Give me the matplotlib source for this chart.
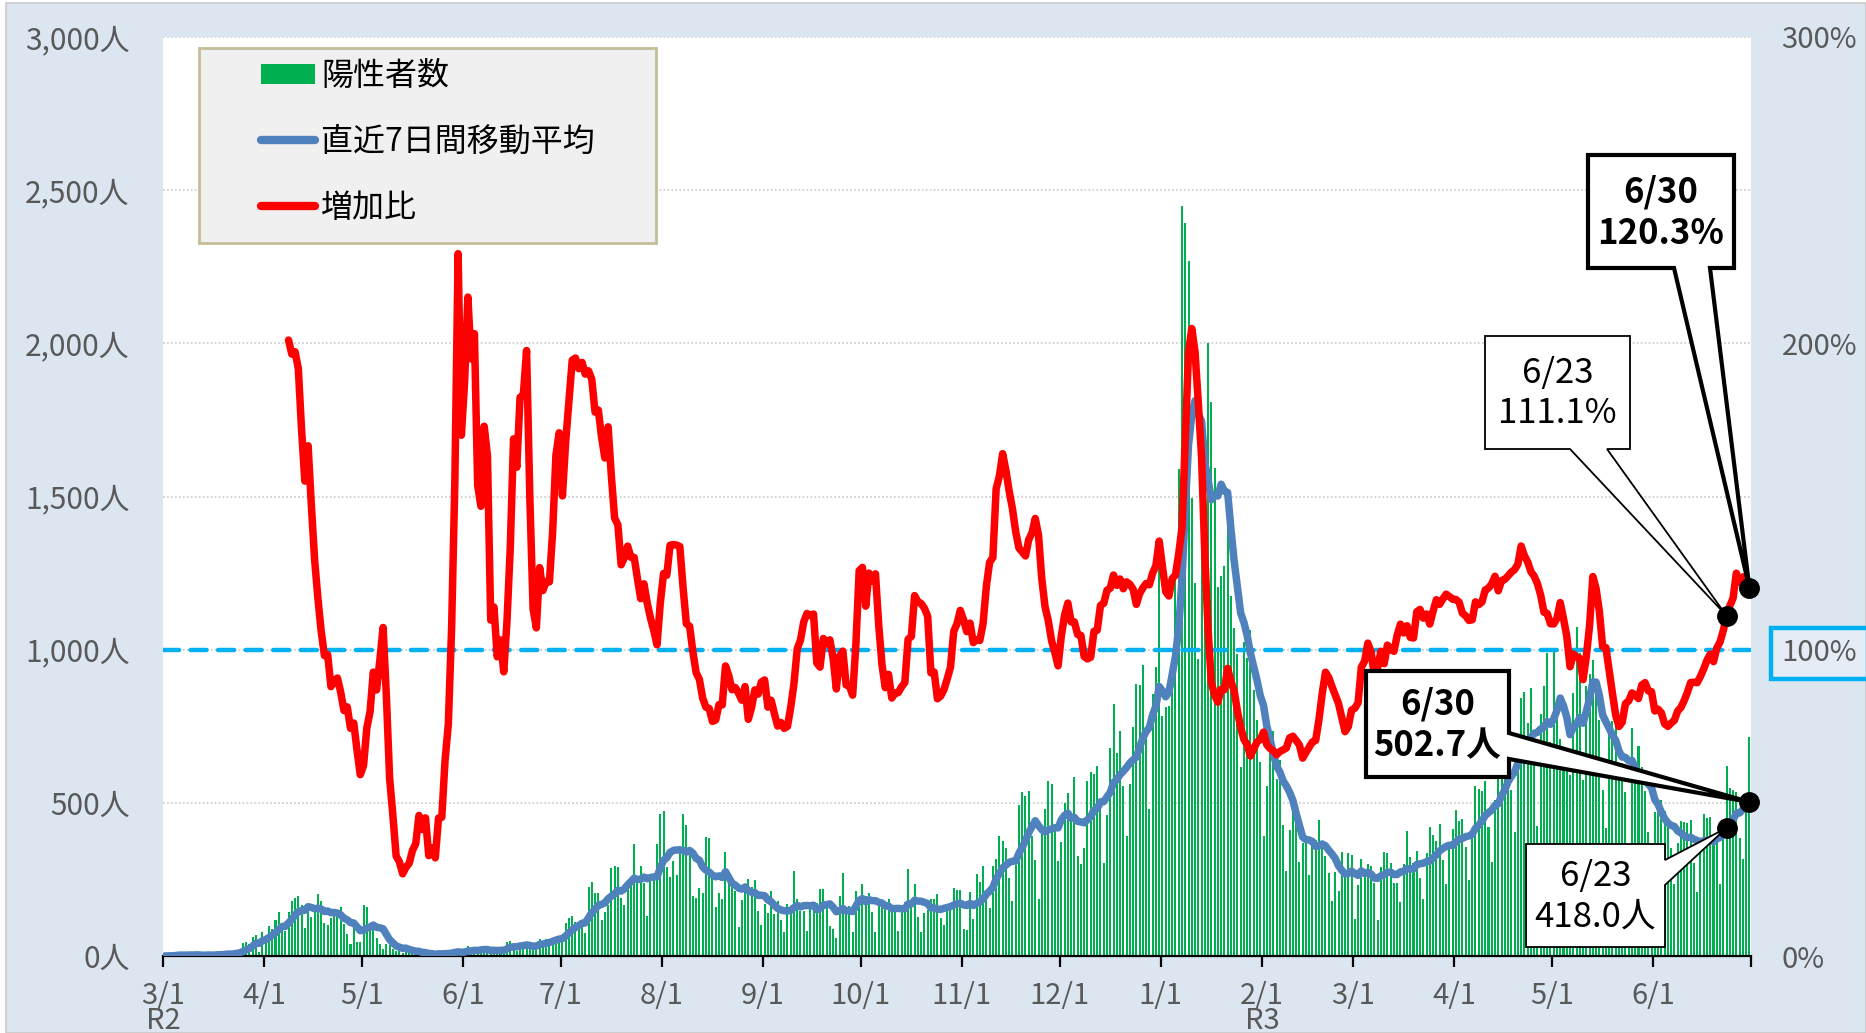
import numpy as np
import pandas as pd
import matplotlib
matplotlib.use("Agg")
import matplotlib.pyplot as plt
from matplotlib.patches import Rectangle, Polygon, Patch
from matplotlib.lines import Line2D

plt.rcParams['font.family'] = ['Noto Sans CJK JP', 'DejaVu Sans']

# ---------------- data: daily positives (Tokyo) ----------------
start_date = "2020-03-01"
end_date = "2021-06-30"
cases_2020_03 = [0, 1, 1, 2, 8, 6, 1, 2, 3, 0, 7, 2, 2, 6, 2, 0, 7, 9, 7, 11,
                 7, 3, 16, 17, 41, 47, 40, 63, 68, 13, 78]
cases_2020_04 = [66, 97, 89, 118, 143, 83, 80, 144, 178, 189, 197, 166, 91, 161, 127,
                 149, 201, 181, 107, 102, 123, 132, 134, 161, 103, 72, 39, 112, 47, 46]
cases_2020_05 = [165, 160, 91, 87, 58, 38, 23, 39, 36, 22, 15, 28, 10, 30, 9, 14, 5,
                 10, 5, 5, 11, 3, 2, 14, 8, 10, 11, 15, 22, 14, 5]
cases_2020_06 = [13, 34, 12, 28, 20, 26, 14, 13, 12, 18, 22, 25, 24, 47, 48, 27, 16,
                 41, 35, 39, 35, 29, 31, 55, 48, 54, 57, 60, 58, 54]
cases_2020_07 = [67, 107, 124, 131, 111, 102, 106, 75, 224, 243, 206, 206, 119, 143,
                 165, 286, 293, 290, 188, 168, 237, 238, 366, 260, 295, 239, 131, 266,
                 250, 367, 463]
cases_2020_08 = [472, 292, 258, 309, 263, 360, 462, 429, 331, 197, 188, 222, 206, 389,
                 385, 260, 161, 207, 186, 339, 258, 256, 212, 95, 182, 236, 250, 226,
                 247, 148, 100]
cases_2020_09 = [170, 141, 211, 136, 181, 116, 77, 170, 149, 276, 187, 146, 146, 80,
                 163, 163, 172, 220, 218, 157, 98, 88, 59, 195, 270, 161, 163, 78, 212, 194]
cases_2020_10 = [235, 196, 207, 143, 78, 175, 176, 175, 185, 150, 146, 81, 166, 177,
                 284, 184, 235, 128, 78, 139, 150, 185, 186, 203, 124, 102, 158, 171,
                 221, 215, 215]
cases_2020_11 = [87, 86, 209, 122, 269, 242, 294, 189, 157, 293, 317, 393, 374, 352,
                 255, 180, 298, 493, 534, 522, 539, 391, 314, 186, 401, 481, 570, 561,
                 418, 311]
cases_2020_12 = [372, 500, 533, 449, 584, 327, 299, 352, 572, 602, 595, 621, 480, 305,
                 460, 678, 822, 664, 736, 556, 392, 563, 748, 888, 884, 949, 708, 481,
                 856, 944, 1337]
cases_2021_01 = [783, 814, 816, 884, 1278, 1591, 2447, 2392, 2268, 1494, 1219, 970,
                 1433, 1502, 2001, 1809, 1592, 1204, 1240, 1274, 1471, 1175, 1070, 986,
                 618, 1026, 973, 1064, 868, 769, 633]
cases_2021_02 = [393, 556, 676, 734, 577, 639, 429, 276, 412, 491, 434, 307, 369, 371,
                 266, 378, 378, 445, 353, 327, 272, 178, 275, 213, 340, 270, 337, 329]
cases_2021_03 = [121, 232, 316, 279, 301, 293, 237, 116, 290, 340, 335, 304, 239, 239,
                 175, 300, 409, 323, 303, 342, 256, 187, 337, 420, 394, 376, 430, 313,
                 234, 364, 414]
cases_2021_04 = [475, 440, 446, 355, 249, 399, 555, 545, 537, 570, 421, 306, 510, 591,
                 729, 667, 759, 543, 405, 711, 843, 861, 759, 876, 635, 425, 790, 880,
                 990, 698]
cases_2021_05 = [1000, 830, 708, 609, 621, 591, 860, 1075, 990, 573, 880, 920, 966,
                 854, 772, 542, 419, 732, 766, 843, 614, 629, 535, 340, 743, 597, 684,
                 618, 539, 406, 260]
cases_2021_06 = [471, 487, 508, 472, 436, 351, 235, 369, 440, 439, 435, 445, 304, 209,
                 337, 465, 452, 453, 388, 376, 236, 402, 619, 550, 542, 534, 386, 317,
                 476, 714]

ratio_start_date = "2020-04-08"

legend_labels = ["陽性者数", "直近7日間移動平均", "増加比"]
left_ticks = [0, 500, 1000, 1500, 2000, 2500, 3000]
left_ticklabels = ["0人", "500人", "1,000人", "1,500人", "2,000人", "2,500人", "3,000人"]
right_ticks = [0, 100, 200, 300]
right_ticklabels = ["0%", "100%", "200%", "300%"]
era_labels = {"2020-03-01": "R2", "2021-02-01": "R3"}

callout_texts = [("6/30", "120.3%"), ("6/23", "111.1%"), ("6/30", "502.7人"), ("6/23", "418.0人")]

# ---------------- derived series ----------------
cases = np.array(cases_2020_03 + cases_2020_04 + cases_2020_05 + cases_2020_06 +
                 cases_2020_07 + cases_2020_08 + cases_2020_09 + cases_2020_10 +
                 cases_2020_11 + cases_2020_12 + cases_2021_01 + cases_2021_02 +
                 cases_2021_03 + cases_2021_04 + cases_2021_05 + cases_2021_06, dtype=float)
dates = pd.date_range(start_date, end_date)
assert len(dates) == len(cases)
s = pd.Series(cases, index=dates)
avg7 = s.rolling(7, min_periods=1).mean()
ratio = avg7 / avg7.shift(7) * 100
x = np.arange(len(dates))
rs = dates.get_loc(pd.Timestamp(ratio_start_date))

# ---------------- figure ----------------
W, H = 1866, 1033
fig = plt.figure(figsize=(W / 100, H / 100), dpi=100)
fig.patch.set_facecolor("white")
fig.patches.append(Rectangle((6 / W, 0), 1 - 6 / W, 1 - 3 / H, transform=fig.transFigure,
                             facecolor="#dce6f1", edgecolor="#c9c9c9", lw=1.2, zorder=-10))
L, R, T, B = 163, 1751, 37, 956
ax = fig.add_axes([L / W, 1 - B / H, (R - L) / W, (B - T) / H])
ax.set_facecolor("white")

GREEN, BLUE, RED, CYAN = "#00b050", "#4f81bd", "#ff0000", "#00b0f0"
TICKC = "#595959"
TICKFS = 21

for yv in left_ticks[1:]:
    ax.axhline(yv, color="#d0d0d0", lw=1.3, ls=(0, (1, 1.2)), zorder=0.5)

ax.bar(x, cases, width=0.62, color=GREEN, linewidth=0, zorder=1)
ax.axhline(1000, color=CYAN, lw=3.2, ls=(0, (3.6, 2.6)), dash_capstyle="round", zorder=2)
ax.plot(x, avg7.values, color=BLUE, lw=5.4, solid_joinstyle="round",
        solid_capstyle="round", zorder=3)

ax.set_xlim(-0.5, len(x) - 0.5)
ax.set_ylim(0, 3000)
ax.set_yticks(left_ticks)
ax.set_yticklabels(left_ticklabels)

month_idx = [i for i, d in enumerate(dates) if d.day == 1]
xt = [i - 0.5 for i in month_idx] + [len(x) - 0.5]
xl = []
for i in month_idx:
    d = dates[i]
    lab = f"{d.month}/1"
    key = d.strftime("%Y-%m-%d")
    if key in era_labels:
        lab += "\n" + era_labels[key]
    xl.append(lab)
xl.append("")
ax.set_xticks(xt)
ax.set_xticklabels(xl, linespacing=0.78)

for sp in ["left", "right", "top"]:
    ax.spines[sp].set_visible(False)
ax.spines["bottom"].set_color("black")
ax.spines["bottom"].set_linewidth(1.6)
ax.tick_params(axis="x", direction="out", length=8, width=1.6, color="black",
               labelsize=TICKFS, labelcolor=TICKC, pad=10)
ax.tick_params(axis="y", length=0, labelsize=TICKFS + 0.5, labelcolor=TICKC, pad=24)

ax2 = ax.twinx()
ax2.set_position(ax.get_position())
ax2.plot(x[rs:], ratio.values[rs:], color=RED, lw=5.4, solid_joinstyle="round",
         solid_capstyle="round", zorder=3)
ax2.set_ylim(0, 300)
ax2.set_yticks(right_ticks)
ax2.set_yticklabels(right_ticklabels)
for sp in ax2.spines.values():
    sp.set_visible(False)
ax2.tick_params(axis="y", length=0, labelsize=TICKFS, labelcolor=TICKC, pad=22)
ax2.get_yticklabels()[1].set_bbox(dict(boxstyle="square,pad=0.36", facecolor="#e6ecf5",
                                       edgecolor=CYAN, linewidth=3.2))

# ---------------- legend ----------------
fig.patches.append(Rectangle((199 / W, 1 - 243 / H), (656 - 199) / W, (243 - 48) / H,
                             transform=fig.transFigure, facecolor="#f0f0f0",
                             edgecolor="#c4bd97", lw=2, zorder=5))
handles = [Patch(facecolor=GREEN, edgecolor="none"),
           Line2D([], [], color=BLUE, lw=6, solid_capstyle="round"),
           Line2D([], [], color=RED, lw=6, solid_capstyle="round")]
leg = fig.legend(handles, legend_labels, loc="upper left",
                 bbox_to_anchor=(261 / W, 1 - 60 / H), frameon=False, fontsize=23,
                 handlelength=1.7, handleheight=0.6, handletextpad=0.18,
                 labelspacing=1.06, borderpad=0, borderaxespad=0)
leg.set_zorder(6)
for t in leg.get_texts():
    t.set_color("black")

# ---------------- callouts ----------------
def px2fig(X, Y):
    return (X / W, 1 - Y / H)

def data2px(axis, xv, yv):
    dx, dy = axis.transData.transform((xv, yv))
    return dx, H - dy

i30 = len(x) - 1
i23 = len(x) - 8
pA = data2px(ax2, i30, ratio.values[i30])
pB = data2px(ax2, i23, ratio.values[i23])
pC = data2px(ax, i30, avg7.values[i30])
pD = data2px(ax, i23, avg7.values[i23])

def callout(box, wedge, apex, side, lines, bold):
    X0, Y0, X1, Y1 = box
    b1, b2 = wedge
    if side == "bottom":
        pts = [(X0, Y0), (X1, Y0), (X1, Y1), (b2, Y1), apex, (b1, Y1), (X0, Y1)]
    else:
        pts = [(X0, Y0), (X1, Y0), (X1, b1), apex, (X1, b2), (X1, Y1), (X0, Y1)]
    poly = Polygon([px2fig(*p) for p in pts], closed=True, transform=fig.transFigure,
                   facecolor="white", edgecolor="black", lw=3.0 if bold else 1.3,
                   joinstyle="miter", zorder=10, clip_on=False)
    ax2.add_artist(poly)
    cx, cy = px2fig((X0 + X1) / 2, (Y0 + Y1) / 2 + 1)
    ax2.text(cx, cy, "\n".join(lines), transform=fig.transFigure, ha="center",
             va="center", multialignment="center", fontsize=25, linespacing=1.22,
             fontweight="bold" if bold else "normal", color="black", zorder=11)

callout((1588, 155, 1734, 268), (1674, 1710), pA, "bottom", callout_texts[0], True)
callout((1485, 336, 1630, 449), (1570, 1607), pB, "bottom", callout_texts[1], False)
callout((1366, 671, 1509, 777), (733, 759), pC, "right", callout_texts[2], True)
callout((1526, 844, 1665, 947), (860, 885), pD, "right", callout_texts[3], False)

ax2.plot([i30, i23], [ratio.values[i30], ratio.values[i23]], "o", color="black",
         markersize=14, zorder=12, clip_on=False)
ax2.plot([i30, i23], [avg7.values[i30], avg7.values[i23]], "o", color="black",
         markersize=14, zorder=12, clip_on=False, transform=ax.transData)

fig.savefig("out.png", dpi=100, facecolor=fig.get_facecolor())
